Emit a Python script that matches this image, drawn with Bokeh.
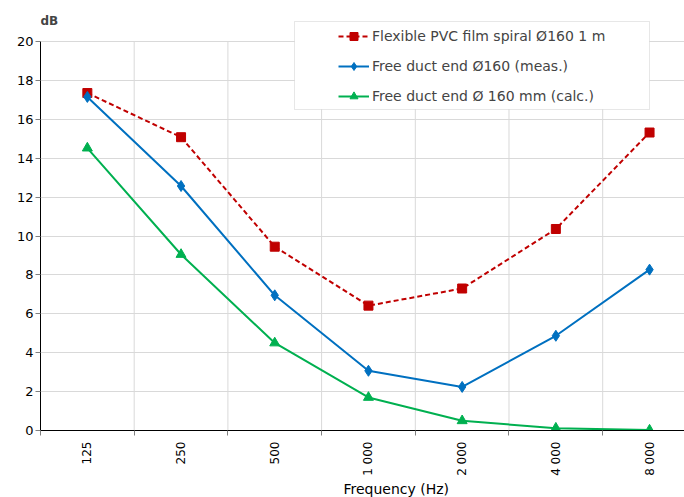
import math
from bokeh.plotting import figure
from bokeh.models import Range1d, FixedTicker, Legend, LegendItem, BoxAnnotation, Label, Title
from bokeh.embed import file_html
from bokeh.resources import INLINE

freq_labels = ["125", "250", "500", "1 000", "2 000", "4 000", "8 000"]
pvc_spiral = [17.35, 15.08, 9.45, 6.42, 7.3, 10.36, 15.32]
free_meas = [17.15, 12.57, 6.95, 3.07, 2.24, 4.87, 8.27]
free_calc = [14.52, 9.05, 4.5, 1.7, 0.5, 0.12, 0.02]
y_ticks = list(range(0, 21, 2))
series_names = ["Flexible PVC film spiral Ø160 1 m",
                "Free duct end Ø160 (meas.)",
                "Free duct end Ø 160 mm (calc.)"]
x_title = "Frequency (Hz)"
y_title = "dB"

FONT = "DejaVu Sans"
RED, BLUE, GREEN = "#c00000", "#0070c0", "#00b050"
GRID = "#d9d9d9"

xs = [i + 0.5 for i in range(len(freq_labels))]
bounds = list(range(len(freq_labels) + 1))
y_top = y_ticks[-1]

p = figure(width=684, height=497, x_range=Range1d(0, 6.873), y_range=Range1d(0, y_top * 430 / 389),
           output_backend="svg", toolbar_location=None,
           min_border_left=40, min_border_right=0, min_border_top=0, min_border_bottom=67)
p.outline_line_color = None
p.background_fill_color = "white"

# axes
p.yaxis.ticker = FixedTicker(ticks=y_ticks)
p.yaxis.bounds = (0, y_top)
p.yaxis.major_label_text_font = FONT
p.yaxis.major_label_text_font_size = "13px"
p.yaxis.major_label_text_color = "black"
p.yaxis.major_tick_out = 5
p.yaxis.major_tick_in = 0
p.yaxis.major_label_standoff = 2
p.yaxis.minor_tick_line_color = None
p.yaxis.major_tick_line_color = "#808080"
p.yaxis.axis_line_color = "black"

p.xaxis.ticker = FixedTicker(ticks=xs, minor_ticks=bounds)
p.xaxis.major_label_overrides = {x: lab for x, lab in zip(xs, freq_labels)}
p.xaxis.major_label_orientation = math.pi / 2
p.xaxis.major_label_text_font = FONT
p.xaxis.major_label_text_font_size = "12px"
p.xaxis.major_label_text_color = "black"
p.xaxis.major_label_standoff = 6
p.xaxis.major_tick_out = 0
p.xaxis.major_tick_in = 0
p.xaxis.minor_tick_out = 5
p.xaxis.minor_tick_in = 0
p.xaxis.minor_tick_line_color = "#808080"
p.xaxis.axis_line_color = "black"

xt = Title(text=x_title, align="left", offset=303, standoff=1,
           text_font=FONT, text_font_size="14px", text_font_style="normal",
           text_color="black")
p.add_layout(xt, "below")

p.xgrid.grid_line_color = None
p.ygrid.ticker = FixedTicker(ticks=y_ticks[1:])
p.ygrid.grid_line_color = GRID

# vertical grid lines between categories, limited to the value axis extent
inner = bounds[1:-1]
p.segment(x0=inner, y0=[0] * len(inner), x1=inner, y1=[y_top] * len(inner),
          line_color=GRID, line_width=1)

# series
l1 = p.line(xs, pvc_spiral, line_color=RED, line_width=2, line_dash="5 3")
m1 = p.scatter(xs, pvc_spiral, marker="square", size=9, color=RED)
l2 = p.line(xs, free_meas, line_color=BLUE, line_width=2)
m2 = p.scatter(xs, free_meas, marker="diamond", size=11, color=BLUE)
l3 = p.line(xs, free_calc, line_color=GREEN, line_width=2)
m3 = p.scatter(xs, free_calc, marker="triangle", size=10, color=GREEN)

box = BoxAnnotation(left=254, right=609, bottom=321, top=409,
                    left_units="screen", right_units="screen",
                    bottom_units="screen", top_units="screen",
                    fill_color="white", fill_alpha=1.0,
                    line_color="#b0b0b0", line_width=1)
p.add_layout(box)

legend = Legend(items=[LegendItem(label=series_names[0], renderers=[l1, m1]),
                       LegendItem(label=series_names[1], renderers=[l2, m2]),
                       LegendItem(label=series_names[2], renderers=[l3, m3])],
                location=(298, 324), padding=5, spacing=10,
                glyph_width=31, glyph_height=20, label_height=20, label_standoff=3,
                label_text_font=FONT, label_text_font_size="14px",
                background_fill_alpha=0, border_line_color=None)
p.add_layout(legend, "center")

db = Label(x=0, y=410, x_units="screen", y_units="screen", text=y_title,
           text_font=FONT, text_font_size="12px", text_font_style="bold",
           text_baseline="middle", text_align="left")
p.add_layout(db)

open("out.html", "w").write(file_html(p, INLINE))
